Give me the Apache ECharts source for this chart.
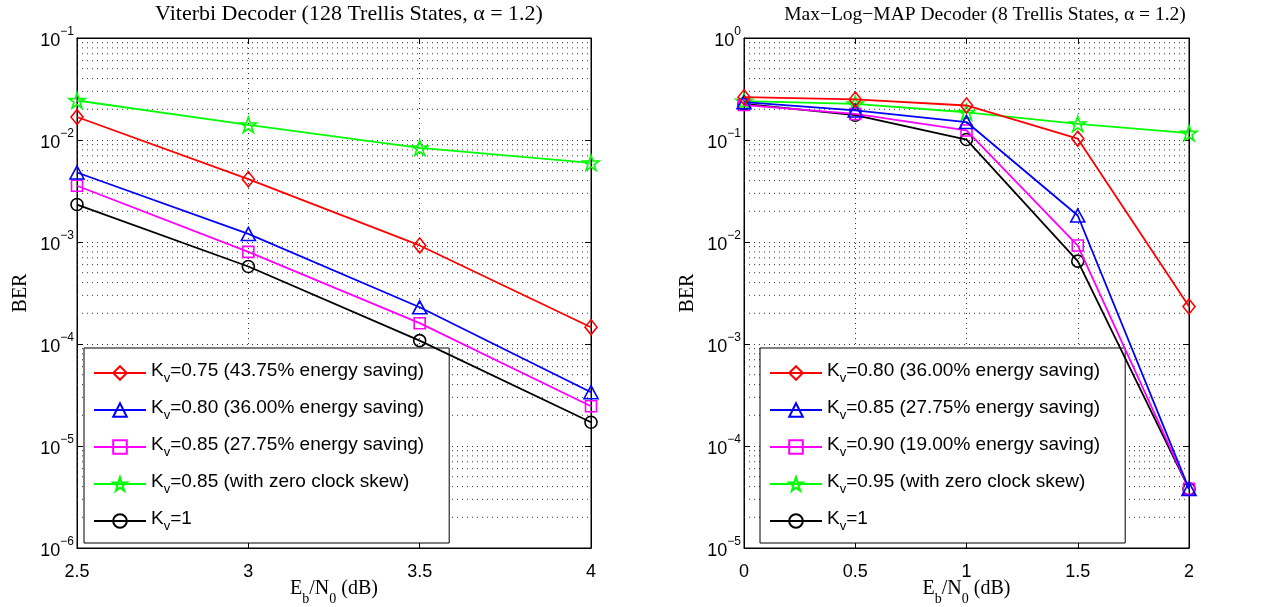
<!DOCTYPE html>
<html><head><meta charset="utf-8">
<script src="https://cdn.jsdelivr.net/npm/echarts@6/dist/echarts.min.js"></script>
<style>html,body{margin:0;padding:0;background:#fff}#c{width:1284px;height:607px}</style>
</head><body><div id="c"></div>
<script>
// ---------- data ----------
const xLeft = [2.5, 3, 3.5, 4];
const berL_075 = [0.0168, 0.00413, 9.25e-4, 1.46e-4];
const berL_080 = [0.0048, 0.0012, 2.29e-4, 3.37e-5];
const berL_085 = [0.00356, 8.0e-4, 1.6e-4, 2.45e-5];
const berL_085z = [0.0244, 0.0141, 0.00838, 0.00597];
const berL_1 = [0.00233, 5.75e-4, 1.08e-4, 1.71e-5];

const xRight = [0, 0.5, 1, 1.5, 2];
const berR_080 = [0.263, 0.25, 0.218, 0.103, 0.00233];
const berR_085 = [0.235, 0.195, 0.15, 0.0182, 3.8e-5];
const berR_090 = [0.22, 0.18, 0.124, 0.00924, 3.8e-5];
const berR_095z = [0.24, 0.226, 0.187, 0.144, 0.1167];
const berR_1 = [0.226, 0.175, 0.101, 0.00649, 3.8e-5];

const leftLabels = ['=0.75 (43.75% energy saving)', '=0.80 (36.00% energy saving)', '=0.85 (27.75% energy saving)', '=0.85 (with zero clock skew)', '=1'];
const rightLabels = ['=0.80 (36.00% energy saving)', '=0.85 (27.75% energy saving)', '=0.90 (19.00% energy saving)', '=0.95 (with zero clock skew)', '=1'];
const titleLeft = 'Viterbi Decoder (128 Trellis States, \u03B1 = 1.2)';
const titleRight = 'Max\u2212Log\u2212MAP Decoder (8 Trellis States, \u03B1 = 1.2)';
const xTicksLeft = {min: 2.5, max: 4, interval: 0.5};
const xTicksRight = {min: 0, max: 2, interval: 0.5};
const yRangeLeft = {min: 1e-6, max: 1e-1, loExp: -6, hiExp: -1};
const yRangeRight = {min: 1e-5, max: 1e0, loExp: -5, hiExp: 0};

// ---------- styles ----------
const colors = ['#ff0000', '#0000ff', '#ff00ff', '#00ff00', '#000000'];
const STAR = 'path://M50,0 L61.8,36.2 L100,36.2 L69.1,58.8 L80.9,95.1 L50,72.7 L19.1,95.1 L30.9,58.8 L0,36.2 L38.2,36.2 Z';
const symbols = ['diamond', 'triangle', 'rect', STAR, 'circle'];
const symSizes = [[12, 15], [14, 13], [11, 11], 16, 12];
const SANS = 'Liberation Sans';
const SERIF = 'Liberation Serif';

const labelMap = {};
leftLabels.forEach((t, i) => labelMap['L' + i] = t);
rightLabels.forEach((t, i) => labelMap['R' + i] = t);

const dotted = {type: [1, 4], color: '#333', width: 1};

function minorVals(lo, hi) {
  const out = [];
  for (let e = lo; e < hi; e++) for (let m = 2; m <= 9; m++) out.push(m * Math.pow(10, e));
  return out;
}
// minor log grid lines, drawn as a broken line through the axes' own scales
function minorGridSeries(xi, t, r) {
  const data = [];
  minorVals(r.loExp, r.hiExp).forEach(v => { data.push([t.min, v], [t.max, v], [t.min, '-']); });
  return {
    type: 'line', xAxisIndex: xi, yAxisIndex: xi, data: data,
    symbol: 'none', silent: true, connectNulls: false, z: 1,
    lineStyle: dotted, emphasis: {disabled: true}, animation: false
  };
}

function mkSeries(prefix, xs, ys, i, xi) {
  return {
    name: prefix + i, type: 'line', xAxisIndex: xi, yAxisIndex: xi,
    data: xs.map((x, k) => [x, ys[k]]),
    symbol: symbols[i], symbolSize: symSizes[i], symbolKeepAspect: true,
    showAllSymbol: true, z: 10 - i,
    lineStyle: {color: colors[i], width: 1.8},
    itemStyle: {color: 'rgba(255,255,255,0)', borderColor: colors[i], borderWidth: 1.6},
    emphasis: {disabled: true}, animation: false
  };
}

const sup = {
  b: {fontFamily: SANS, fontSize: 18, lineHeight: 24, verticalAlign: 'bottom', color: '#000'},
  p: {fontFamily: SANS, fontSize: 12, lineHeight: 12, verticalAlign: 'top', color: '#000'}
};
function logLabel(v) {
  const e = Math.round(Math.log10(v));
  return '{b|10}{p|' + (e < 0 ? '\u2212' + (-e) : e) + '}';
}
const xName = '{a|E}{s|b}{a|/N}{s|0}{a| (dB)}';
const xNameRich = {
  a: {fontFamily: SERIF, fontSize: 20, lineHeight: 27, verticalAlign: 'top', color: '#000'},
  s: {fontFamily: SERIF, fontSize: 14, lineHeight: 14, verticalAlign: 'bottom', color: '#000'}
};

function xAxisMain(gi, t) {
  return {
    gridIndex: gi, type: 'value', min: t.min, max: t.max, interval: t.interval,
    name: xName, nameLocation: 'middle', nameGap: 31, nameMoveOverlap: false,
    nameTextStyle: {rich: xNameRich},
    axisLine: {show: true, onZero: false, lineStyle: {color: '#000', width: 1}},
    axisTick: {show: true, inside: true, length: 6, lineStyle: {color: '#000'}},
    axisLabel: {fontFamily: SANS, fontSize: 18, color: '#000', margin: 15,
      formatter: v => String(v)},
    splitLine: {show: true, lineStyle: dotted}
  };
}
function xAxisTop(gi, t) {
  return {
    gridIndex: gi, type: 'value', position: 'top', min: t.min, max: t.max, interval: t.interval,
    axisLine: {show: true, onZero: false, lineStyle: {color: '#000'}},
    axisTick: {show: true, inside: true, length: 6, lineStyle: {color: '#000'}},
    axisLabel: {show: false}, splitLine: {show: false}
  };
}
function yAxisMain(gi, r) {
  return {
    gridIndex: gi, type: 'log', logBase: 10, min: r.min, max: r.max,
    name: 'BER', nameLocation: 'middle', nameGap: 46, nameRotate: 90, nameMoveOverlap: false,
    nameTextStyle: {fontFamily: SERIF, fontSize: 20, color: '#000'},
    axisLine: {show: true, onZero: false, lineStyle: {color: '#000'}},
    axisTick: {show: true, inside: true, length: 6, lineStyle: {color: '#000'}},
    axisLabel: {margin: 3, formatter: logLabel, rich: sup},
    splitLine: {show: true, lineStyle: dotted}
  };
}
function yAxisRight(gi, r) {
  return {
    gridIndex: gi, type: 'log', logBase: 10, min: r.min, max: r.max, position: 'right',
    axisLine: {show: true, onZero: false, lineStyle: {color: '#000'}},
    axisTick: {show: true, inside: true, length: 6, lineStyle: {color: '#000'}},
    axisLabel: {show: false}, splitLine: {show: false}
  };
}

const legRich = {
  k: {fontFamily: SANS, fontSize: 19, lineHeight: 24, verticalAlign: 'top', color: '#000'},
  s: {fontFamily: SANS, fontSize: 13, lineHeight: 13, verticalAlign: 'bottom', color: '#000'}
};
function legend(prefix, left) {
  return {
    orient: 'vertical', left: left, top: 348,
    data: [0, 1, 2, 3, 4].map(i => prefix + i),
    itemWidth: 52, itemHeight: 17, itemGap: 13,
    padding: [13, 25, 10, 9],
    backgroundColor: '#fff', borderColor: '#000', borderWidth: 1,
    selectedMode: false,
    formatter: n => '{k|K}{s|v}{k|' + labelMap[n] + '}',
    textStyle: {rich: legRich}
  };
}

const leftData = [berL_075, berL_080, berL_085, berL_085z, berL_1];
const rightData = [berR_080, berR_085, berR_090, berR_095z, berR_1];

const series = [minorGridSeries(0, xTicksLeft, yRangeLeft), minorGridSeries(1, xTicksRight, yRangeRight)];
leftData.forEach((d, i) => series.push(mkSeries('L', xLeft, d, i, 0)));
rightData.forEach((d, i) => series.push(mkSeries('R', xRight, d, i, 1)));

const gridBase = {top: 38, height: 510, show: true, borderColor: '#000', borderWidth: 1,
  backgroundColor: '#fff', containLabel: false, outerBoundsMode: 'none'};
const option = {
  backgroundColor: '#fff',
  animation: false,
  title: [
    {text: titleLeft, left: 344, top: -2, textAlign: 'center',
      textStyle: {fontFamily: SERIF, fontSize: 22, fontWeight: 'normal', color: '#000'}},
    {text: titleRight, left: 980, top: 0, textAlign: 'center',
      textStyle: {fontFamily: SERIF, fontSize: 19.5, fontWeight: 'normal', color: '#000'}}
  ],
  grid: [
    Object.assign({left: 77, width: 514}, gridBase),
    Object.assign({left: 744, width: 445}, gridBase)
  ],
  xAxis: [xAxisMain(0, xTicksLeft), xAxisMain(1, xTicksRight), xAxisTop(0, xTicksLeft), xAxisTop(1, xTicksRight)],
  yAxis: [yAxisMain(0, yRangeLeft), yAxisMain(1, yRangeRight), yAxisRight(0, yRangeLeft), yAxisRight(1, yRangeRight)],
  legend: [legend('L', 84), legend('R', 760)],
  series: series
};
const chart = echarts.init(document.getElementById('c'), null, {renderer: 'canvas'});
chart.setOption(option);
</script>
</body></html>
